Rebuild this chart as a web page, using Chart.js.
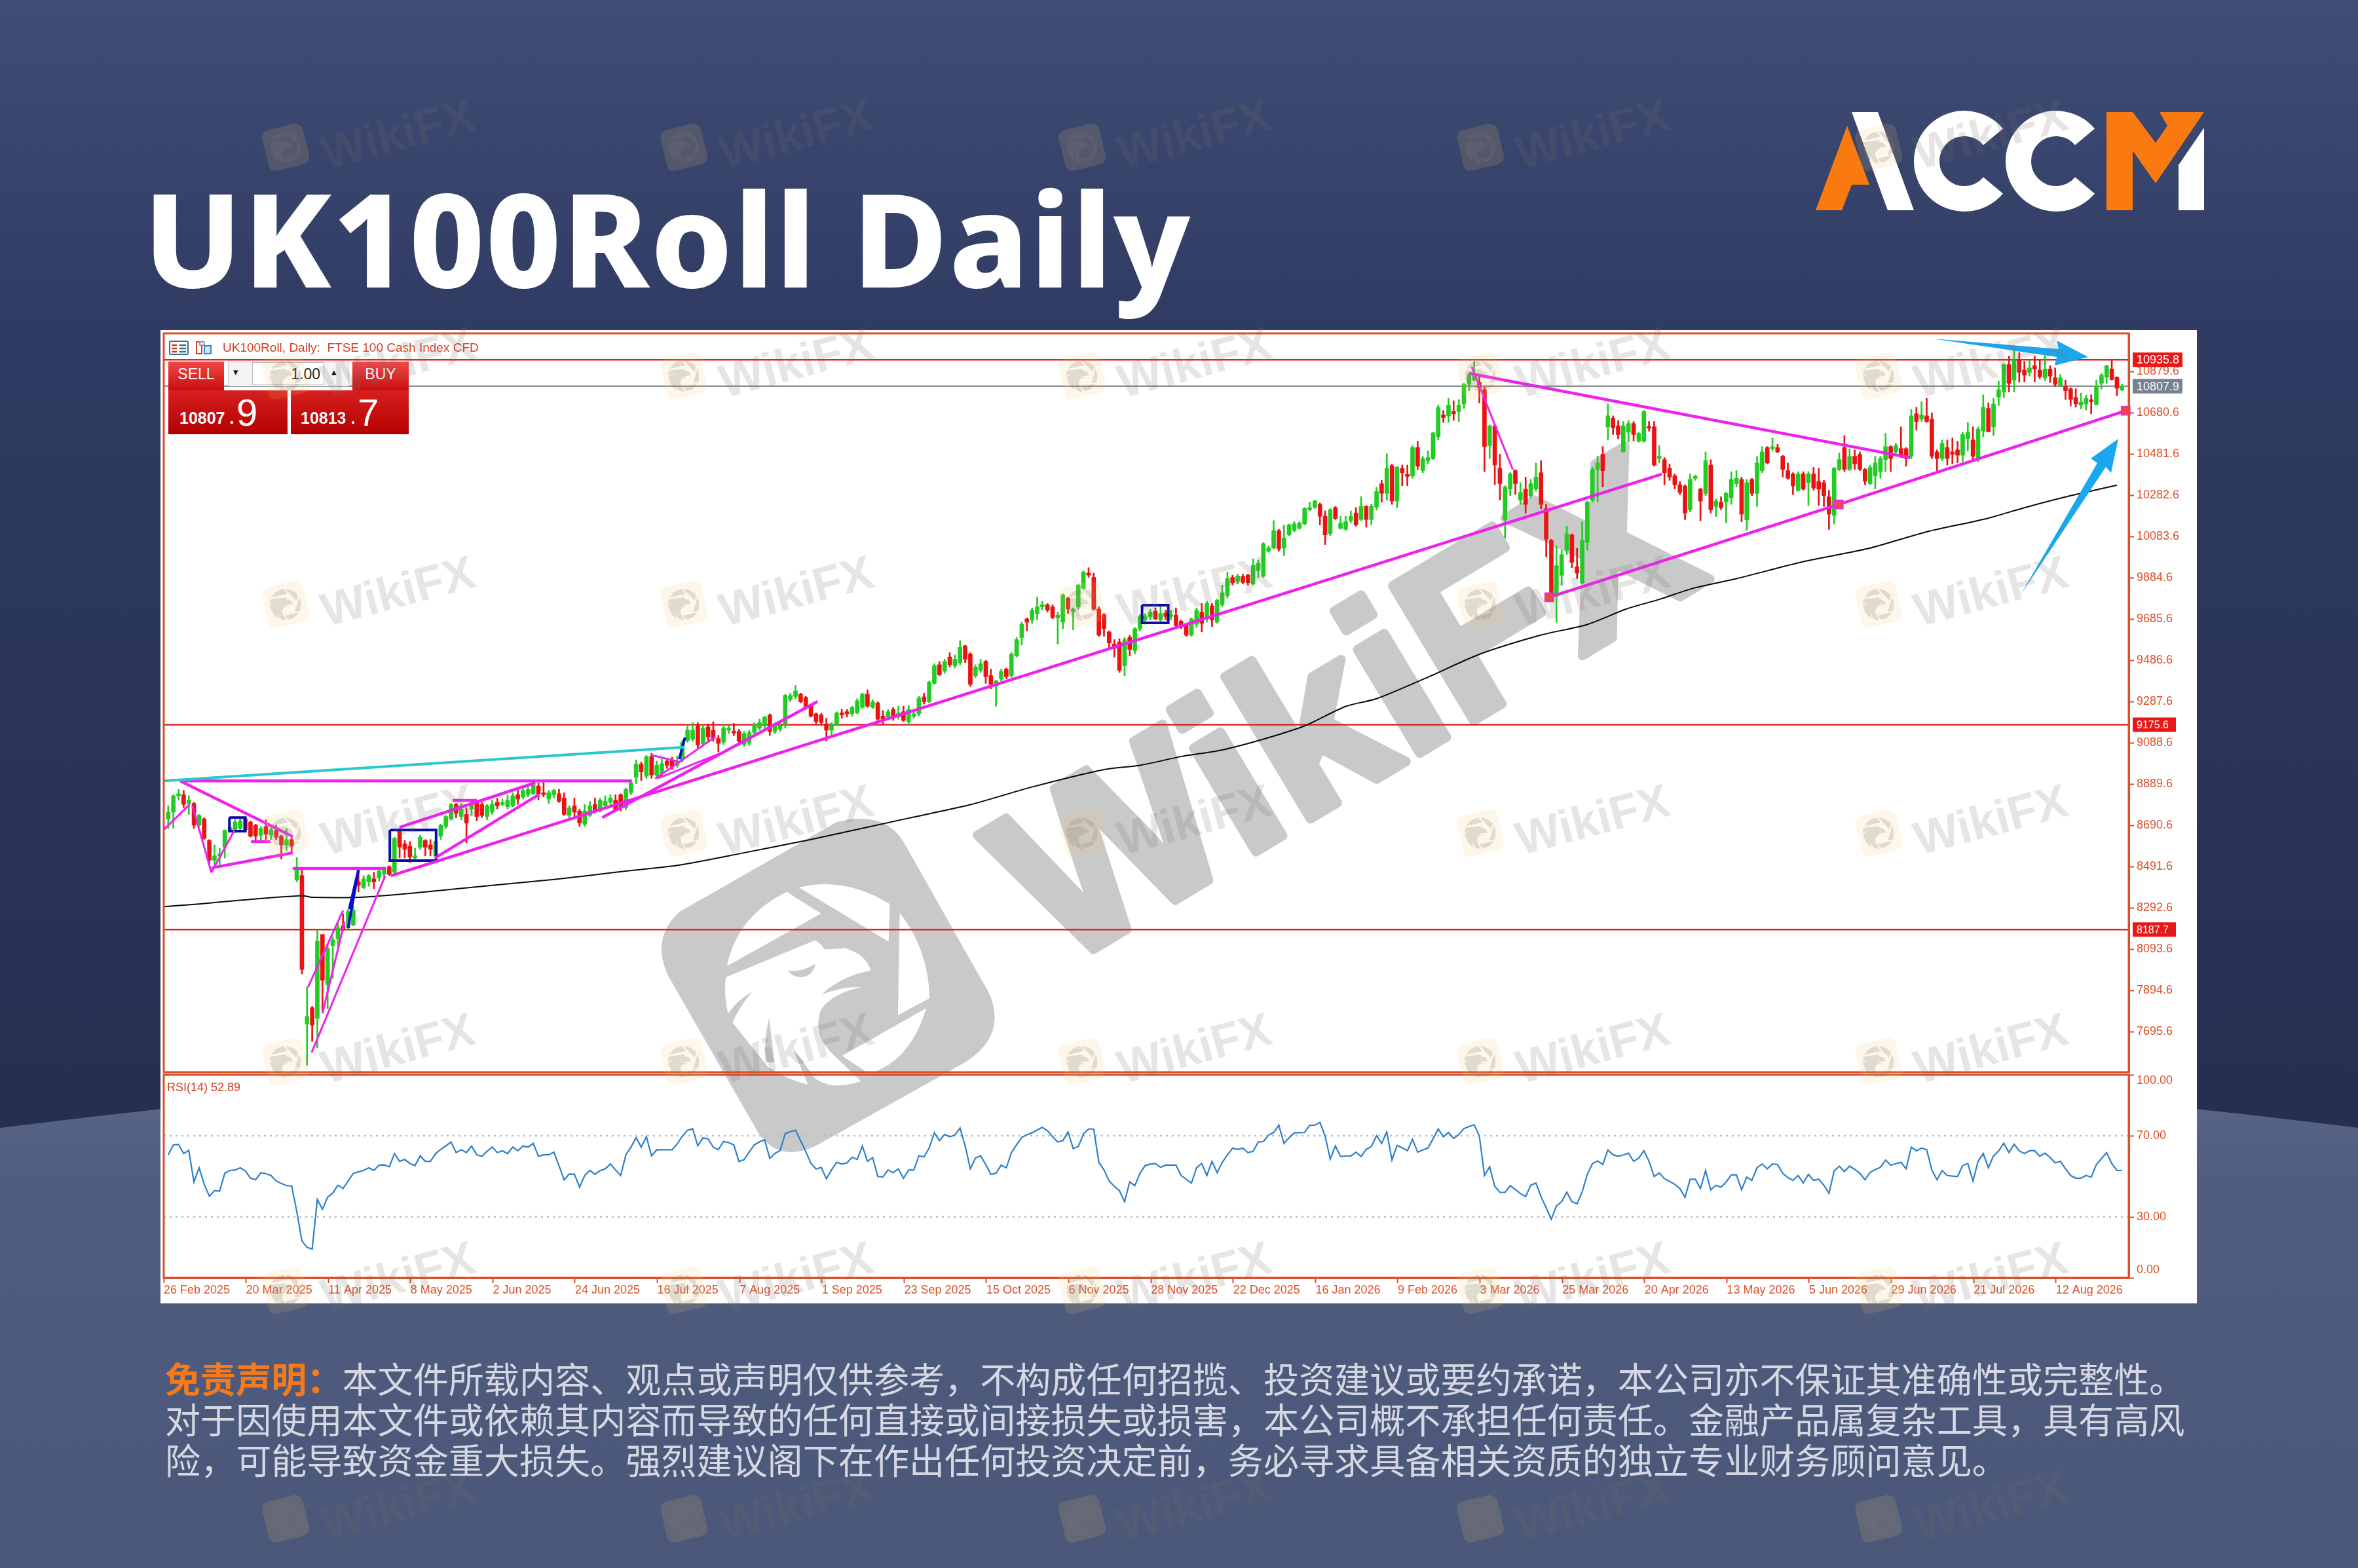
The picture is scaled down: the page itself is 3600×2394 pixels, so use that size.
<!DOCTYPE html>
<html><head><meta charset="utf-8"><title>UK100Roll Daily</title>
<script src="https://cdn.jsdelivr.net/npm/chart.js@4"></script>
<style>
html,body{margin:0;padding:0;background:#2e3a60}
#page{position:relative;width:3600px;height:2394px;overflow:hidden;font-family:"Liberation Sans",sans-serif;background:linear-gradient(180deg,#404d75 0,#2f3b62 500px,#252f50 1700px)}
.abs{position:absolute}
#title{left:219px;top:238px;font:800 199px/1.25 "Noto Sans",sans-serif;color:#fff;white-space:nowrap;letter-spacing:2px}
#panel{left:245px;top:504px;width:3109px;height:1486px;background:#fff}
canvas{position:absolute}
#disc{left:252px;top:2073px;font:400 54.1px/62px "Noto Sans CJK SC",sans-serif;color:#d5d8e3;white-space:nowrap}
#disc b{color:#f47a1f;font-weight:700}
.hdr{left:340px;top:520px;font-size:19px;line-height:22px;color:#d83c20;white-space:nowrap}
#rsiT{left:255px;top:1650px;font-size:18px;line-height:20px;color:#d83c20;white-space:nowrap}
.btn{background:linear-gradient(180deg,#f24848,#c80e0e);color:#fff;text-align:center}
.px{background:linear-gradient(180deg,#d82020,#b30000);color:#fff;white-space:nowrap}
</style></head><body>
<div id="page">
<svg class="abs" style="left:0;top:0" width="3600" height="2394">
 <defs>
  <linearGradient id="band" x1="0" y1="0" x2="0" y2="1"><stop offset="0" stop-color="#5b6889"/><stop offset="0.25" stop-color="#505d7e"/><stop offset="1" stop-color="#4a5778"/></linearGradient>
  <path id="lgSquare" d="M110,450 L820,45 Q1030,-10 1120,130 L1510,820 Q1590,1010 1400,1130 L720,1510 Q540,1590 450,1420 L60,740 Q-20,570 110,450 Z"/>
  <path id="lgBird" d="M595,360 L750,458 L325,695 Q370,470 595,360 Z M650,340 Q860,290 1060,415 L1055,585 Z M1105,455 Q1235,620 1240,840 L1097,917 Z M1225,885 L845,1100 L965,1180 Q1150,1130 1225,885 Z M320,745 L720,580 Q745,585 765,620 L860,615 Q950,640 975,715 Q840,740 750,825 Q850,785 930,790 Q800,820 750,890 Q710,1000 800,1090 L930,1215 Q800,1260 720,1200 Q680,1140 620,1060 L690,1230 Q600,1210 510,1150 L350,950 Q380,880 440,810 Q370,850 330,910 Q310,830 320,745 Z"/>
 </defs>
 <path d="M0 1722 Q1800 1494 3600 1722 L3600 2394 L0 2394 Z" fill="url(#band)"/>
 <!-- ACCM logo -->
 <polygon fill="#f97a10" points="2820,192 2854,282 2827,282 2812,321 2772,321"/>
 <polygon fill="#fff" points="2827,171 2867,171 2922,321 2882,321"/>
 <path fill="none" stroke="#fff" stroke-width="39" d="M3043,209 A57.5,57.5 0 1 0 3043,283"/>
 <path fill="none" stroke="#fff" stroke-width="39" d="M3183,209 A57.5,57.5 0 1 0 3183,283"/>
 <polygon fill="#f97a10" points="3216,171 3256,171 3291,218 3309,192 3297,171 3365,171 3291,280 3256,230 3256,321 3216,321"/>
 <polygon fill="#fff" points="3365,195 3365,321 3326,321 3326,252"/>
</svg>
<div id="title" class="abs">UK100Roll Daily</div>
<div id="panel" class="abs"></div>
<svg class="abs" style="left:0;top:0" width="3600" height="2394">
 <!-- large grey mark -->
 <g transform="translate(1000 1240) scale(0.3381)">
  <use href="#lgSquare" fill="#c9c9c9"/>
  <use href="#lgBird" fill="#fff"/>
  <path fill="#c9c9c9" d="M600,715 Q660,725 725,685 Q710,745 660,745 Q620,745 600,715 Z M515,930 Q490,1040 500,1130 L540,1130 Z"/>
 </g>
 <text x="2052" y="1078" transform="rotate(-31 2052 1078)" text-anchor="middle" dominant-baseline="central" font-family="Liberation Sans" font-weight="700" font-size="350" fill="#c9c9c9" stroke="#c9c9c9" stroke-width="14" stroke-linejoin="round">WikiFX</text>
</svg>
<canvas id="priceC" width="3109" height="1136" style="left:245px;top:504px;width:3109px;height:1136px"></canvas>
<canvas id="rsiC" width="3109" height="354" style="left:245px;top:1636px;width:3109px;height:354px"></canvas>

<!-- header and trade panel -->
<svg class="abs" style="left:258px;top:519px" width="74" height="24">
 <rect x="1" y="2" width="28" height="20" rx="2" fill="#fff" stroke="#36708f" stroke-width="2"/>
 <path d="M4 8H12M4 13H12M4 18H12" stroke="#d83c20" stroke-width="2.5"/><path d="M16 8H26M16 13H26M16 18H26" stroke="#36708f" stroke-width="2.5"/>
 <path d="M42 3H50V21H42Z" fill="none" stroke="#d83c20" stroke-width="2"/><path d="M54 9H64V21H54Z" fill="#cfeaf7" stroke="#2a8ec7" stroke-width="2"/><path d="M47 3H54V8H47Z" fill="#eef" stroke="#888" stroke-width="1.5"/>
</svg>
<div class="abs hdr">UK100Roll, Daily:&nbsp; FTSE 100 Cash Index CFD</div>
<div class="abs btn" style="left:257px;top:552px;width:85px;height:44px;font-size:23px;line-height:38px">SELL</div>
<div class="abs btn" style="left:538px;top:552px;width:86px;height:44px;font-size:23px;line-height:38px">BUY</div>
<div class="abs" style="left:348px;top:552px;width:185px;height:38px;background:#f4f4f4;border:1px solid #ccc;box-sizing:border-box"></div>
<div class="abs" style="left:385px;top:553px;width:110px;height:35px;background:#fff;border:1px solid #bbb;box-sizing:border-box;text-align:right;padding-right:5px;font-size:23px;line-height:34px;color:#222">1.00</div>
<div class="abs" style="left:356px;top:558px;font-size:15px;line-height:20px;color:#111">▾</div>
<div class="abs" style="left:506px;top:558px;font-size:15px;line-height:20px;color:#111">▴</div>
<div class="abs px" style="left:257px;top:596px;width:182px;height:67px"><span style="position:absolute;left:17px;top:27px;font-size:25px;line-height:30px;font-weight:700">10807 .</span><span style="position:absolute;left:104px;top:2px;font-size:58px;line-height:64px">9</span></div>
<div class="abs px" style="left:444px;top:596px;width:180px;height:67px"><span style="position:absolute;left:15px;top:27px;font-size:25px;line-height:30px;font-weight:700">10813 .</span><span style="position:absolute;left:102px;top:2px;font-size:58px;line-height:64px">7</span></div>
<div id="rsiT" class="abs">RSI(14) 52.89</div>

<svg class="abs" style="left:0;top:0" width="3600" height="2394">
 <polygon fill="#1aa7f0" points="2950,517 3143,533 3140,520 3188,545 3137,558 3140,545"/>
 <polygon fill="#1aa7f0" points="3085,908 3202,707 3192,700 3234,670 3223,722 3215,713"/>
 <g id="marks"></g>
</svg>
<div id="disc" class="abs"><b>免责声明&#65306;</b>本文件所载内容、观点或声明仅供参考&#65292;不构成任何招揽、投资建议或要约承诺&#65292;本公司亦不保证其准确性或完整性。<br>对于因使用本文件或依赖其内容而导致的任何直接或间接损失或损害&#65292;本公司概不承担任何责任。金融产品属复杂工具&#65292;具有高风<br>险&#65292;可能导致资金重大损失。强烈建议阁下在作出任何投资决定前&#65292;务必寻求具备相关资质的独立专业财务顾问意见。</div>
</div>
<script>
const opens=[8722,8754,8833,8838,8796,8796,8691,8722,8617,8522,
8543,8585,8669,8659,8675,8722,8706,8691,8643,8685,
8643,8664,8638,8596,8622,8427,8448,7732,7811,7759,
8164,7922,8111,8143,8206,8196,8211,8417,8390,8417,
8432,8438,8454,8490,8464,8669,8601,8590,8533,8585,
8617,8596,8543,8638,8685,8722,8791,8733,8743,8769,
8801,8791,8733,8754,8801,8791,8780,8785,8838,8827,
8838,8843,8880,8843,8817,8838,8843,8822,8738,8785,
8759,8696,8738,8791,8764,8785,8801,8812,8838,8775,
8848,8922,8985,8927,9022,8932,8940,9000,9004,8980,
9005,9100,9105,9170,9085,9165,9149,9109,9091,9149,
9145,9143,9080,9086,9138,9159,9170,9223,9143,9154,
9180,9296,9312,9323,9307,9270,9228,9223,9180,9149,
9175,9233,9238,9228,9233,9259,9323,9259,9281,9217,
9212,9249,9212,9238,9191,9217,9228,9310,9286,9375,
9465,9433,9502,9460,9475,9556,9517,9412,9438,9481,
9412,9360,9396,9444,9412,9507,9596,9686,9681,9712,
9744,9754,9744,9691,9670,9786,9721,9744,9833,9907,
9886,9733,9707,9623,9565,9575,9460,9597,9533,9639,
9681,9697,9723,9681,9714,9697,9704,9675,9660,9607,
9660,9718,9691,9749,9670,9754,9797,9886,9865,9891,
9897,9854,9918,9891,10012,10028,10112,10028,10091,10112,
10123,10144,10212,10223,10239,10181,10097,10223,10123,10118,
10160,10197,10165,10228,10165,10225,10338,10291,10425,10254,
10412,10383,10375,10512,10401,10449,10459,10564,10670,10665,
10686,10686,10722,10817,10838,10828,10791,10522,10617,10412,
10164,10312,10401,10259,10312,10280,10312,10391,10217,10064,
9796,9896,10017,10091,9938,9859,10054,10259,10407,10480,
10612,10654,10617,10491,10586,10628,10543,10543,10612,10612,
10459,10454,10412,10375,10333,10327,10212,10364,10312,10291,
10428,10228,10249,10249,10270,10338,10359,10164,10359,10291,
10401,10512,10507,10512,10470,10401,10385,10306,10385,10343,
10385,10349,10343,10275,10185,10407,10512,10407,10470,10480,
10407,10338,10375,10396,10454,10517,10491,10507,10507,10470,
10675,10649,10665,10649,10491,10459,10512,10491,10501,10475,
10554,10549,10459,10591,10701,10612,10756,10780,10912,10838,
10938,10886,10875,10907,10886,10849,10891,10849,10809,10807,
10796,10754,10717,10722,10743,10720,10822,10851,10891,10851,10789];
const highs=[8785,8838,8864,8859,8833,8801,8743,8727,8622,8596,
8580,8669,8701,8717,8722,8727,8712,8696,8685,8717,
8691,8691,8643,8675,8638,8535,8475,7911,7817,8185,
8164,8111,8153,8217,8264,8285,8301,8475,8448,8454,
8464,8480,8485,8496,8633,8675,8617,8612,8580,8643,
8622,8622,8617,8696,8738,8796,8796,8796,8775,8812,
8812,8801,8791,8812,8822,8817,8838,8848,8859,8870,
8875,8896,8896,8901,8859,8864,8864,8848,8785,8822,
8769,8791,8806,8822,8822,8833,8838,8838,8843,8870,
8906,9006,8996,9027,9038,9000,9010,9015,9020,9025,
9100,9175,9185,9185,9175,9180,9190,9125,9180,9170,
9182,9154,9143,9149,9186,9202,9217,9228,9186,9191,
9323,9328,9365,9328,9312,9275,9233,9230,9207,9186,
9238,9251,9249,9265,9301,9328,9344,9296,9286,9244,
9249,9259,9265,9265,9270,9238,9312,9328,9386,9470,
9481,9491,9523,9512,9581,9560,9523,9465,9491,9486,
9444,9391,9444,9449,9523,9596,9670,9691,9739,9791,
9770,9760,9754,9718,9807,9791,9739,9854,9918,9933,
9907,9744,9712,9628,9586,9591,9597,9607,9644,9707,
9712,9733,9739,9744,9728,9728,9739,9680,9665,9691,
9739,9760,9770,9760,9781,9849,9912,9897,9902,9902,
9902,9976,9970,10054,10039,10160,10118,10139,10144,10155,
10155,10223,10249,10258,10244,10207,10218,10228,10181,10181,
10207,10223,10276,10233,10240,10320,10354,10482,10433,10422,
10428,10428,10522,10543,10470,10496,10586,10717,10691,10749,
10738,10744,10822,10870,10928,10859,10807,10622,10622,10480,
10328,10391,10406,10343,10370,10359,10438,10449,10238,10070,
10038,10017,10133,10096,10027,10154,10254,10417,10470,10517,
10722,10665,10643,10638,10643,10638,10586,10691,10638,10638,
10522,10464,10433,10385,10349,10333,10385,10380,10317,10491,
10454,10264,10275,10296,10396,10401,10370,10359,10364,10470,
10517,10517,10559,10528,10475,10438,10391,10396,10396,10396,
10417,10412,10354,10306,10417,10486,10570,10507,10501,10491,
10412,10428,10470,10470,10580,10522,10533,10612,10512,10696,
10707,10733,10749,10680,10501,10549,10549,10559,10543,10586,
10633,10612,10612,10767,10728,10749,10833,10917,10954,10980,
10970,10928,10933,10954,10938,10954,10907,10896,10865,10838,
10801,10796,10775,10765,10767,10838,10870,10910,10933,10854,10819];
const lows=[8675,8675,8812,8775,8743,8675,8685,8622,8501,8501,
8501,8533,8659,8654,8669,8664,8633,8612,8612,8622,
8622,8622,8527,8569,8559,8417,7974,7532,7648,7616,
7795,7806,7953,8090,8180,8190,8206,8369,8385,8396,
8385,8422,8427,8448,8448,8533,8533,8511,8522,8575,
8543,8543,8533,8622,8675,8717,8727,8717,8606,8738,
8712,8727,8717,8743,8769,8785,8769,8780,8791,8817,
8827,8838,8812,8827,8796,8822,8801,8738,8727,8733,
8685,8685,8733,8754,8754,8769,8785,8759,8759,8764,
8838,8891,8906,8917,8917,8915,8925,8965,8960,8970,
8995,9090,9095,9060,9070,9090,9095,9044,9080,9133,
9123,9080,9070,9075,9128,9149,9154,9123,9133,9143,
9159,9286,9301,9281,9249,9212,9180,9175,9096,9123,
9170,9207,9212,9217,9228,9254,9259,9254,9196,9175,
9202,9196,9202,9191,9175,9207,9217,9275,9281,9370,
9412,9423,9454,9449,9465,9475,9360,9402,9428,9375,
9349,9265,9386,9396,9402,9502,9560,9628,9665,9681,
9728,9718,9686,9565,9638,9712,9633,9733,9828,9886,
9728,9602,9602,9538,9502,9428,9412,9507,9517,9628,
9660,9681,9681,9670,9681,9681,9644,9639,9602,9602,
9644,9623,9670,9649,9665,9744,9786,9849,9854,9854,
9849,9849,9886,9886,10007,10023,10012,9991,10086,10107,
10118,10139,10207,10218,10139,10044,10086,10165,10118,10112,
10149,10133,10160,10128,10140,10210,10249,10259,10238,10222,
10328,10328,10364,10406,10391,10433,10454,10549,10633,10633,
10643,10638,10701,10786,10833,10728,10396,10459,10333,10259,
10075,10280,10285,10238,10196,10270,10301,10217,9985,9785,
9669,9848,9996,9933,9880,9854,10017,10249,10249,10322,
10549,10575,10554,10491,10538,10543,10538,10538,10591,10422,
10438,10333,10354,10312,10285,10164,10201,10354,10159,10280,
10196,10180,10212,10149,10238,10322,10154,10112,10280,10228,
10391,10433,10496,10486,10370,10359,10285,10301,10306,10233,
10306,10233,10228,10117,10143,10401,10396,10401,10406,10401,
10333,10333,10312,10364,10396,10396,10480,10464,10422,10459,
10596,10638,10633,10459,10401,10449,10428,10433,10438,10443,
10496,10454,10443,10564,10588,10570,10714,10752,10780,10780,
10828,10830,10857,10830,10844,10833,10826,10807,10807,10744,
10712,10707,10699,10693,10675,10717,10794,10822,10838,10762,10786];
const closes=[8754,8833,8838,8791,8812,8691,8738,8627,8522,8543,
8548,8667,8680,8706,8712,8669,8638,8638,8675,8648,
8669,8633,8596,8622,8590,8475,7995,7769,7727,8132,
7943,8096,8138,8196,8185,8275,8280,8401,8432,8448,
8417,8469,8475,8454,8627,8585,8575,8538,8543,8633,
8585,8575,8612,8691,8733,8791,8748,8769,8701,8801,
8733,8738,8785,8791,8785,8801,8812,8833,8817,8859,
8864,8885,8843,8838,8848,8859,8806,8743,8775,8754,
8701,8759,8785,8764,8812,8806,8822,8764,8775,8864,
8896,8985,8948,9022,8933,8980,8988,8980,8972,9000,
9090,9150,9150,9077,9157,9117,9109,9085,9159,9159,
9135,9096,9133,9138,9175,9186,9212,9143,9170,9170,
9317,9317,9338,9286,9259,9217,9191,9186,9149,9180,
9233,9223,9228,9259,9291,9323,9265,9286,9202,9202,
9238,9207,9233,9196,9249,9228,9304,9286,9381,9460,
9417,9481,9465,9491,9549,9491,9370,9454,9470,9407,
9370,9386,9433,9407,9517,9586,9660,9670,9728,9744,
9754,9728,9693,9704,9802,9733,9733,9849,9912,9897,
9733,9607,9639,9570,9544,9438,9586,9539,9639,9697,
9702,9718,9686,9712,9697,9707,9654,9649,9607,9686,
9728,9665,9760,9681,9775,9812,9881,9860,9893,9862,
9860,9944,9954,10049,10028,10112,10023,10076,10139,10144,
10149,10218,10223,10255,10181,10091,10212,10170,10149,10155,
10181,10139,10228,10165,10230,10300,10291,10412,10254,10417,
10391,10373,10512,10422,10459,10464,10583,10707,10657,10717,
10675,10717,10817,10865,10865,10801,10517,10617,10428,10338,
10322,10385,10338,10296,10238,10338,10370,10238,10070,9796,
9943,9996,10096,9959,9906,10064,10249,10407,10438,10401,
10665,10607,10575,10617,10628,10575,10580,10686,10605,10428,
10470,10391,10370,10333,10296,10196,10359,10367,10254,10449,
10212,10254,10222,10291,10359,10364,10191,10343,10291,10438,
10491,10438,10517,10491,10407,10364,10327,10385,10312,10385,
10317,10312,10280,10191,10412,10454,10407,10470,10433,10407,
10349,10417,10438,10459,10517,10459,10522,10470,10459,10665,
10638,10670,10638,10470,10459,10533,10459,10480,10475,10575,
10586,10470,10601,10707,10588,10722,10791,10912,10822,10933,
10875,10861,10896,10891,10854,10891,10857,10817,10849,10786,
10744,10722,10731,10749,10733,10807,10861,10907,10840,10798,10808];
const rsiValues=[60.6,65.5,65.7,61.2,62.8,47.2,54.2,46.1,40.2,42.9,
42.7,51.5,52.9,53.1,54.2,52.6,49.1,48.3,51.7,51.3,
50.4,47.7,46.5,45.4,45.3,32.7,18.2,15,14.2,38.6,
33.8,39.7,41.8,45.6,44,47.7,51.5,52.2,52.9,54.2,
52.9,55.5,55.6,54.7,61.2,57.4,58.3,56.3,55.3,60.1,
57.4,57.4,61.2,63.3,65,66.9,61.7,63.1,61.7,64.9,
60.6,59.8,62.3,64.4,61.7,62.6,61.2,64.4,62.6,64.9,
64.4,66.2,59.9,60.6,60.6,61.9,55.3,48.3,51.2,51,
44.7,50.4,52.9,51,52.8,53.7,56.1,53.1,50.4,60.6,
64.4,69,64.4,69.5,60.1,63,63.1,63.1,63.1,66,
69.8,72.7,73.4,65,69,68.4,64.4,63.1,67.2,66.6,
65.5,57.3,58.2,62,65.5,67,68,58.8,61.3,62.7,
71,72,72.7,67.5,62.2,56.3,53.6,54.4,48.8,53.1,
56.9,56.1,56.6,59.4,58.3,64.9,57.4,59.2,49.9,49.7,
53.1,51.8,53.7,49,53.1,53.1,60.1,59.6,64,71.4,
67.6,70.6,69.5,70.3,73.8,64.9,53.7,59,60.1,55.8,
51,51.5,55.5,54.2,61.7,65.5,69.2,70.5,71.4,72.8,
74.1,72.5,69.5,66.9,67.6,71.9,63.7,64.7,70.9,73.3,
73.3,56.9,53.1,47.7,45.1,42.9,37.5,47.2,45.4,51.5,
55.3,56,56.3,54.4,55.5,55.5,55.5,50.4,48.5,46.7,
54.2,56.3,50.4,57.4,51.8,56.9,60.5,63.9,63.3,63.9,
61.7,62.3,66.9,67.1,70.3,71.6,75.2,66.2,69,71.4,
71.5,71.6,75.1,75.2,76.6,69.8,58.5,65,59.8,60,
60,61.9,59.8,63.3,64.7,70,66.2,71.9,58,65.2,
64,62.6,68.2,61.9,63,63.9,68.5,73.3,69.5,71.6,
68.7,70.5,73.5,74.5,75.4,69.8,50.4,54.7,45.1,42.1,
42.1,45.4,43.5,41.5,40,45.6,46.7,40,34.5,28.9,
35.4,37.5,42.2,37.5,36.5,42.4,51,56.3,57.6,55.8,
63,60.6,59.9,60.5,61.4,57.4,59,62.6,57.4,49.9,
51.7,48.8,47.5,46.1,44,39.7,48.6,48.6,44,52.8,
43.4,45.6,44.7,47.2,50.7,50.7,43.4,49.6,48,54.2,
56.1,53.7,56.1,55.8,51.5,49.4,48,50.4,46.7,51,
48,48.6,45.6,41.6,52.6,55,52.4,55,53.4,51.5,
48.3,52,53.3,54.4,58,55.5,56.2,56.9,53.7,64.4,
62.5,63.9,63.1,53.1,48.3,52.8,50.4,50.1,49.9,55.3,
56.3,47.7,57.4,61.2,54.2,60.1,62.5,66.3,61.7,65.8,
62.5,61.2,62.6,62.6,59.9,61.4,59.3,56.6,57.4,53.7,
50.4,49.1,49.1,50.4,49.6,55.8,58.7,61.7,56.3,52.9,52.9];
const maBars=[-1,6,14,26,28,38.5,50,63,75,87,99.4,111.6,125,144,156,168,182,189,197,205,213,221,229,235,245,255,267,276,283.5,290,296.5,305,318,330.6,342,353.7,361,370,379];
const maValues=[8298,8311,8329,8351,8343,8345,8369,8401,8429,8464,8499,8556,8622,8725,8790,8875,8959,8980,9022,9054,9106,9170,9264,9301,9405,9515,9608,9659,9733,9780,9833,9880,9962,10025,10106,10170,10222,10280,10331];
const priceTicks=[10879.6,10680.6,10481.6,10282.6,10083.6,9884.6,9685.6,9486.6,9287.6,9088.6,8889.6,8690.6,8491.6,8292.6,8093.6,7894.6,7695.6];
const tickLabels=["26 Feb 2025","20 Mar 2025","11 Apr 2025","8 May 2025","2 Jun 2025","24 Jun 2025","16 Jul 2025","7 Aug 2025","1 Sep 2025","23 Sep 2025","15 Oct 2025","6 Nov 2025","28 Nov 2025","22 Dec 2025","16 Jan 2026","9 Feb 2026","3 Mar 2026","25 Mar 2026","20 Apr 2026","13 May 2026","5 Jun 2026","29 Jun 2026","21 Jul 2026","12 Aug 2026"];
const tickBars=[-0.87,15.13,31.13,47.13,63.13,79.13,95.13,111.13,127.13,143.13,159.13,175.13,191.13,207.13,223.13,239.13,255.13,271.13,287.13,303.13,319.13,335.13,351.13,367.13];
// segments: [bar1, price1, bar2, price2]
const cyanLines=[[-0.9,8905,100.4,9067]];
const magentaThick=[[2.3,8905,90.2,8905],[2.3,8905,24.2,8637],[8.4,8485,24.2,8558],[16.1,8612,19.9,8612],[24.2,8482,42.4,8482],[43.3,8447,290.5,10384],[45,8681,71.4,8896],[51.9,8533,72.1,8839],[84.4,8728,126.3,9288],[253,10870,338.8,10463],[55.3,8811,60,8811]];
const magentaThin=[[-0.9,8668,4.2,8792],[4.7,8786,8.4,8463],[8.4,8463,12.9,8668],[27.2,7910,34,8280],[30,7784,34.3,8226],[27.9,7595,42.2,8447],[95.3,8918,107.4,9038],[94.2,9028,99,8999],[94.7,8915,106.4,9117],[253.5,10902,261.5,10406]];
const blueLines=[[35,8195,37,8476],[35.2,8286,37,8476],[99.4,9010,100.5,9114]];
const blueBoxes=[[11.9,8728,15,8662],[43.1,8668,52.1,8520],[189.4,9752,194.5,9667]];
const channelBars=[268.6,324.9,380.7];
const channelPrices=[9790,10238,10690];
const levelPrices=[10935.8,9175.6,8187.7];
const bidPrice=10807.9;
const tagValues=[10935.8,10807.9,9175.6,8187.7];
const tagColors=["#e81818","#76828f","#e81818","#e81818"];
const rsiTicks=[100,97,70,30,3.9,0];
const rsiTickText={97:"100.00",70:"70.00",30:"30.00",3.9:"0.00"};

const AX="#dc4f28", GREEN="#22cc22", RED="#ea1212", XMIN=-0.87, XMAX=381.3;
const barsIdx=opens.map((_,i)=>i);
const noPad=s=>{s.paddingTop=0;s.paddingBottom=0;s.paddingLeft=0;s.paddingRight=0};
const seg=(s,color,w,dash)=>({type:'line',data:[{x:s[0],y:s[1]},{x:s[2],y:s[3]}],borderColor:color,borderWidth:w,pointRadius:0,tension:0,order:2,borderDash:dash||[]});
const level=(p,color,w)=>({type:'line',data:[{x:XMIN,y:p},{x:XMAX,y:p}],borderColor:color,borderWidth:w,pointRadius:0,order:20});
const box=b=>({type:'line',data:[{x:b[0],y:b[1]},{x:b[2],y:b[1]},{x:b[2],y:b[3]},{x:b[0],y:b[3]},{x:b[0],y:b[1]}],borderColor:"#0a0aa8",borderWidth:4,pointRadius:0,tension:0,order:2});
const frame={id:'frame',afterDraw(c){const a=c.chartArea,x=c.ctx;x.save();x.strokeStyle=AX;x.lineWidth=3;x.strokeRect(a.left,a.top,a.right-a.left,a.bottom-a.top);x.restore();}};
const tags={id:'tags',afterDraw(c){const y=c.scales.y,x=c.ctx,a=c.chartArea;x.save();tagValues.forEach((v,i)=>{const py=y.getPixelForValue(v);const big=v>10000;const w=big?76:66;x.fillStyle=tagColors[i];x.fillRect(a.right+6,py-11,w,22);x.fillStyle='#fff';x.font=(big?18:16)+'px "Liberation Sans"';x.textBaseline='middle';x.textAlign='left';x.fillText(v.toFixed(1),a.right+12,py+1);});x.restore();}};
const commonAxisY={position:'right',afterFit:s=>{s.width=104;noPad(s)},border:{color:AX,width:3},grid:{drawOnChartArea:false,tickLength:8,tickColor:AX,tickWidth:2},};

new Chart(document.getElementById('priceC'),{type:'bar',
 data:{datasets:[
  {label:'wick',data:barsIdx.map(i=>({x:i,y:[lows[i],highs[i]]})),backgroundColor:barsIdx.map(i=>closes[i]>=opens[i]?GREEN:RED),barThickness:2,order:11},
  {label:'body',data:barsIdx.map(i=>({x:i,y:[opens[i],closes[i]]})),backgroundColor:barsIdx.map(i=>closes[i]>=opens[i]?GREEN:RED),barThickness:6,minBarLength:3,order:10},
  {label:'MA200',type:'line',data:maBars.map((b,i)=>({x:b,y:maValues[i]})),borderColor:'#0a0a0a',borderWidth:2,pointRadius:0,tension:0.25,order:5},
  ...levelPrices.map(p=>level(p,'#e02222',2.5)),
  level(bidPrice,'#8a8f94',2.5),
  ...cyanLines.map(s=>seg(s,'#28c8cc',4)),
  ...magentaThick.map(s=>seg(s,'#ee22ee',4.5)),
  ...magentaThin.map(s=>seg(s,'#ee22ee',3)),
  ...blueLines.map(s=>seg(s,'#0a0ad0',4)),
  ...blueBoxes.map(box),
  {label:'channel',type:'line',data:channelBars.map((b,i)=>({x:b,y:channelPrices[i]})),borderColor:'#ee22ee',borderWidth:4.5,tension:0,pointStyle:'rect',pointRadius:9,pointBackgroundColor:'#f4473f',pointBorderColor:'#ee22ee',pointBorderWidth:2,order:1,clip:false}
 ]},
 options:{responsive:false,animation:false,devicePixelRatio:1,
  layout:{autoPadding:false,padding:{left:5,top:5,right:0,bottom:3}},
  datasets:{bar:{grouped:false}},
  plugins:{legend:{display:false},tooltip:{enabled:false}},
  scales:{
   x:{type:'linear',min:XMIN,max:XMAX,display:false,offset:false,afterFit:noPad},
   y:{...commonAxisY,min:7499.9,max:11062.8,
      afterBuildTicks:s=>{s.ticks=priceTicks.map(v=>({value:v}))},
      ticks:{color:AX,font:{size:18,family:'Liberation Sans'},padding:4,callback:v=>Number(v).toFixed(1)}}
  }},
 plugins:[frame,tags]});

new Chart(document.getElementById('rsiC'),{type:'line',
 data:{datasets:[
  {label:'RSI(14)',data:rsiValues.map((v,i)=>({x:i,y:v})),borderColor:'#2e7fc9',borderWidth:2.2,pointRadius:0,tension:0,order:1},
  {type:'line',data:[{x:XMIN,y:70},{x:XMAX,y:70}],borderColor:'#bdbdbd',borderWidth:2.5,borderDash:[3,6],pointRadius:0,order:3},
  {type:'line',data:[{x:XMIN,y:30},{x:XMAX,y:30}],borderColor:'#bdbdbd',borderWidth:2.5,borderDash:[3,6],pointRadius:0,order:3}
 ]},
 options:{responsive:false,animation:false,devicePixelRatio:1,
  layout:{autoPadding:false,padding:{left:5,top:5,right:0,bottom:0}},
  plugins:{legend:{display:false},tooltip:{enabled:false}},
  scales:{
   x:{type:'linear',min:XMIN,max:XMAX,afterFit:s=>{s.height=39;noPad(s)},
      afterBuildTicks:s=>{s.ticks=tickBars.map(v=>({value:v}))},
      border:{color:AX,width:3},grid:{drawOnChartArea:false,tickLength:8,tickColor:AX,tickWidth:2},
      ticks:{color:AX,align:'start',autoSkip:false,maxRotation:0,minRotation:0,padding:0,font:{size:18,family:'Liberation Sans'},callback:(v,i)=>tickLabels[i]}},
   y:{...commonAxisY,min:0,max:100,
      grid:{drawOnChartArea:false,tickLength:8,tickWidth:2,tickColor:c=>(c.tick&&(c.tick.value===97||c.tick.value===3.9))?'rgba(0,0,0,0)':AX},
      afterBuildTicks:s=>{s.ticks=rsiTicks.map(v=>({value:v}))},
      ticks:{color:AX,font:{size:18,family:'Liberation Sans'},padding:4,autoSkip:false,callback:v=>rsiTickText[v]||''}}
  }},
 plugins:[frame]});

// repeated light watermark
const NS='http://www.w3.org/2000/svg',marks=document.getElementById('marks');
[225,574,923,1272,1621,1970,2319].forEach(y=>[436,1044,1652,2260,2868].forEach(x=>{
 const g=document.createElementNS(NS,'g');
 g.setAttribute('transform',`translate(${x} ${y}) rotate(16) scale(0.052) translate(-780 -780)`);
 g.innerHTML=`<use href="#lgSquare" fill="rgba(245,200,110,.15)"/><use href="#lgBird" fill="rgba(120,120,120,.22)"/>`;
 marks.appendChild(g);
 const t=document.createElementNS(NS,'text');
 t.setAttribute('transform',`translate(${x+62} ${y+34}) rotate(-15)`);
 t.setAttribute('font-family','Liberation Sans');t.setAttribute('font-weight','700');t.setAttribute('font-size','72');t.setAttribute('fill','rgba(120,110,100,.18)');
 t.textContent='WikiFX';
 marks.appendChild(t);
}));
</script>
</body></html>
